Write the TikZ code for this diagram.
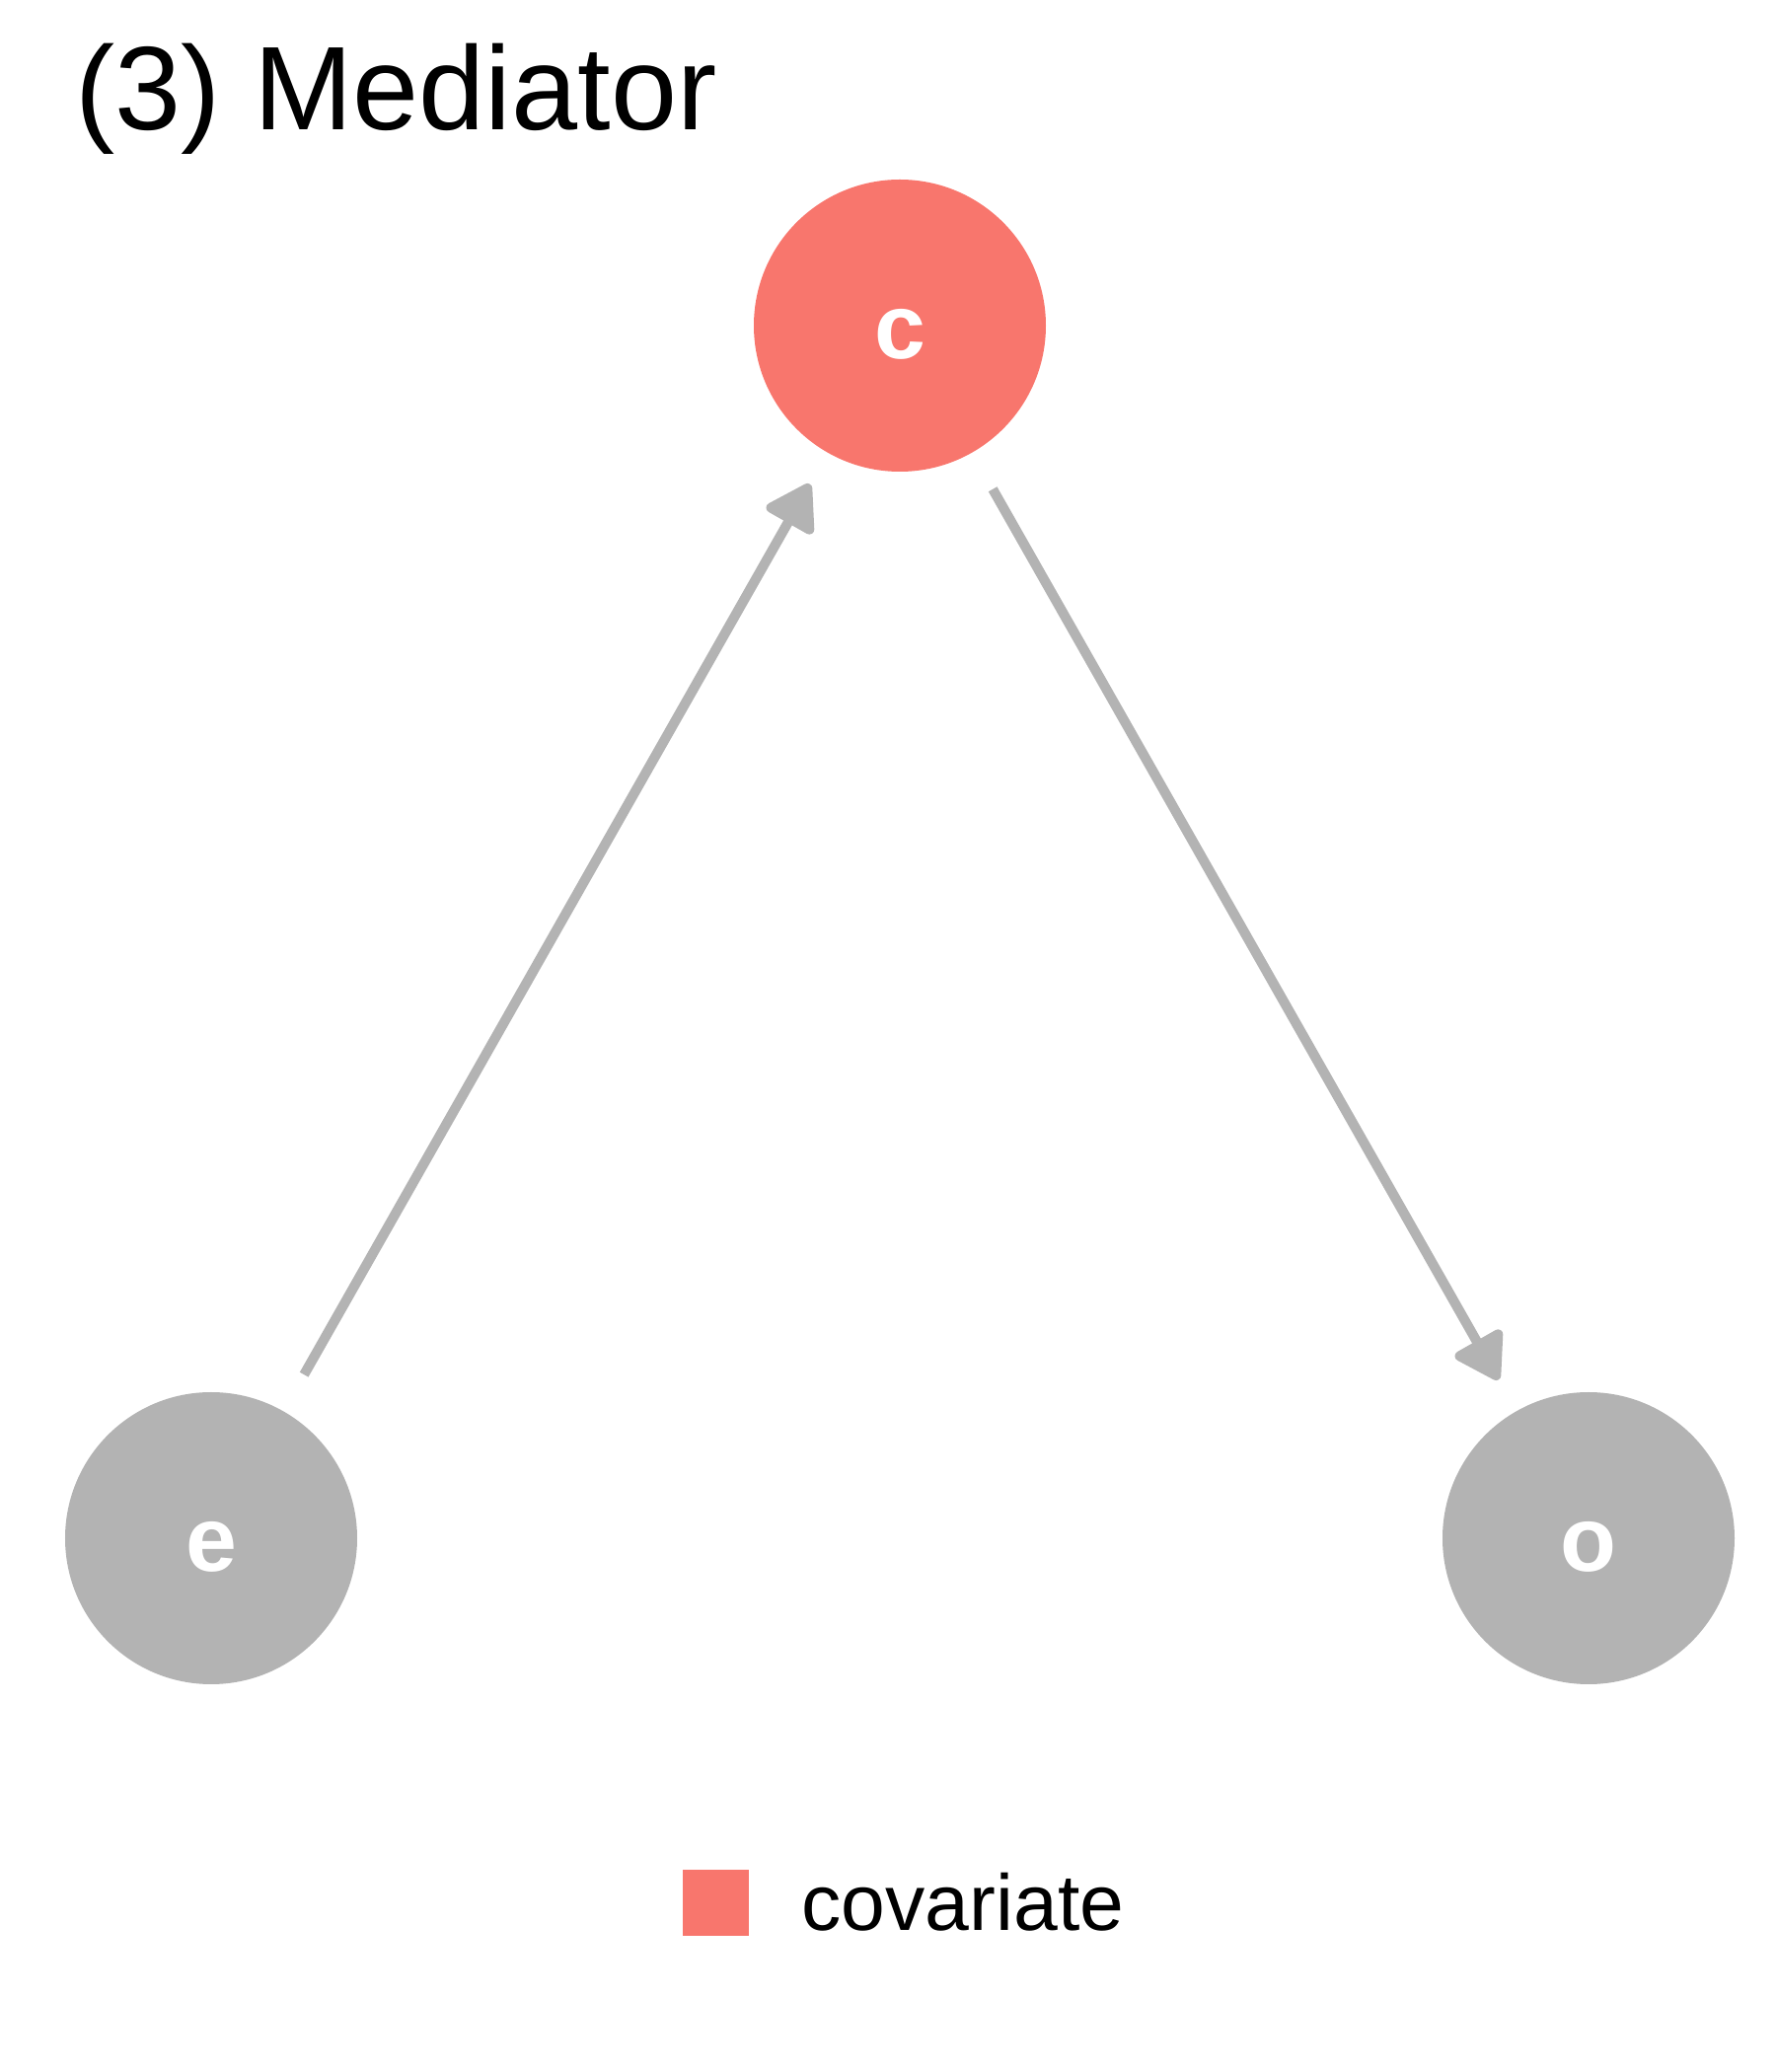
\documentclass[tikz,border=0pt]{standalone}
\usepackage{fontspec}
\setmainfont{Liberation Sans}
\usepackage{tikz}
\usetikzlibrary{arrows.meta}
\usetikzlibrary{positioning}

\definecolor{covred}{HTML}{F8766D}
\definecolor{nodegray}{HTML}{B3B3B3}

\tikzset{
  var/.style={circle, fill=nodegray, minimum size=2.96cm, inner sep=0pt,
    text=white, font=\fontsize{26.5}{26.5}\selectfont\bfseries,
    text height=0.68cm, text depth=0pt},
  edge/.style={draw=nodegray, line width=1mm,
    -{Triangle[length=5.0mm, width=6.0mm, round]},
    shorten <=0.42cm, shorten >=0.36cm},
}

\begin{document}
\begin{tikzpicture}
      \useasboundingbox (0,0) rectangle (18,21);
      \node[anchor=base west, inner sep=0pt, font=\fontsize{34.3}{34.3}\selectfont] (title) at (0.76, 19.68) {(3) Mediator};
      % nodes
      \node[var, fill=covred] (c) at (9.12, 17.70) {c};
      \node[var] (e) at (2.14, 5.41) {e};
      \node[var] (o) at (16.10, 5.41) {o};
      % edges
      \draw[edge] (e) -- (c);
      \draw[edge] (c) -- (o);
      % legend
      \node[fill=covred, minimum size=0.67cm, inner sep=0pt] (key) at (7.25, 1.715) {};
      \node[anchor=base west, inner sep=0pt, font=\fontsize{22.9}{22.9}\selectfont] (keylabel) at (8.12, 1.44) {covariate};
\end{tikzpicture}
\end{document}
